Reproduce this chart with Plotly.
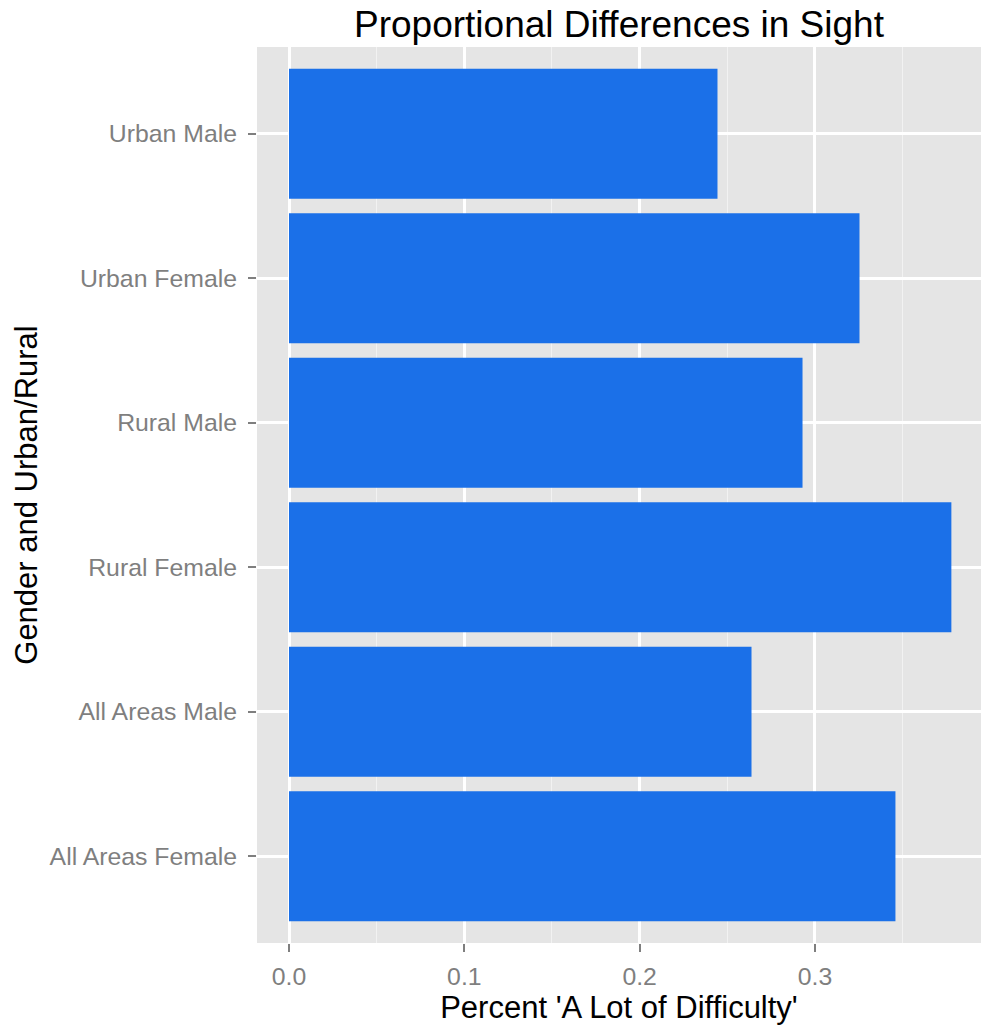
import plotly.graph_objects as go

categories = ["All Areas Female", "All Areas Male", "Rural Female", "Rural Male", "Urban Female", "Urban Male"]
values = [0.3459, 0.2638, 0.3778, 0.2929, 0.3254, 0.2444]
x_ticks = [0.0, 0.1, 0.2, 0.3]
x_tick_labels = ["0.0", "0.1", "0.2", "0.3"]
x_minor = [0.05, 0.15, 0.25, 0.35]

FONT = "Liberation Sans, Arial, Helvetica, sans-serif"

W, H = 981, 1030
ML, MT, MB = 257, 47, 87

fig = go.Figure(
    go.Bar(
        x=values,
        y=categories,
        orientation="h",
        width=0.9,
        marker=dict(color="#1B70E8", line=dict(width=0)),
    )
)

fig.update_layout(
    width=W,
    height=H,
    margin=dict(l=ML, r=0, t=MT, b=MB),
    paper_bgcolor="white",
    plot_bgcolor="#E5E5E5",
    showlegend=False,
    title=dict(
        text="Proportional Differences in Sight",
        xref="container",
        x=(ML + W) / 2 / W,
        xanchor="center",
        yref="container",
        y=1 - 24 / H,
        yanchor="middle",
        font=dict(family=FONT, size=37, color="black"),
    ),
    font=dict(family=FONT),
)

fig.update_xaxes(
    range=[-0.01825, 0.3947],
    tickvals=x_ticks,
    ticktext=x_tick_labels,
    ticks="outside",
    ticklen=8,
    tickwidth=2,
    tickcolor="#7F7F7F",
    tickfont=dict(family=FONT, size=24.8, color="#7F7F7F"),
    ticklabelstandoff=3,
    showgrid=True,
    gridcolor="white",
    gridwidth=2.5,
    zeroline=False,
    showline=False,
    minor=dict(tickvals=x_minor, showgrid=True, gridcolor="#F2F2F2", gridwidth=1.2, ticklen=0),
    title=dict(text="Percent 'A Lot of Difficulty'", font=dict(family=FONT, size=31, color="black"), standoff=5),
)

fig.update_yaxes(
    type="category",
    categoryorder="array",
    categoryarray=categories,
    range=[-0.6, 5.6],
    ticks="outside",
    ticklen=8,
    tickwidth=2,
    tickcolor="#7F7F7F",
    tickfont=dict(family=FONT, size=24.8, color="#7F7F7F"),
    ticklabelstandoff=6,
    showgrid=True,
    gridcolor="white",
    gridwidth=2.5,
    zeroline=False,
    showline=False,
    title=dict(text="Gender and Urban/Rural", font=dict(family=FONT, size=31, color="black"), standoff=2),
)

fig.write_html(
    "out.html",
    config={"displayModeBar": False},
    post_script="document.body.style.margin='0';document.body.style.overflow='hidden';",
)
